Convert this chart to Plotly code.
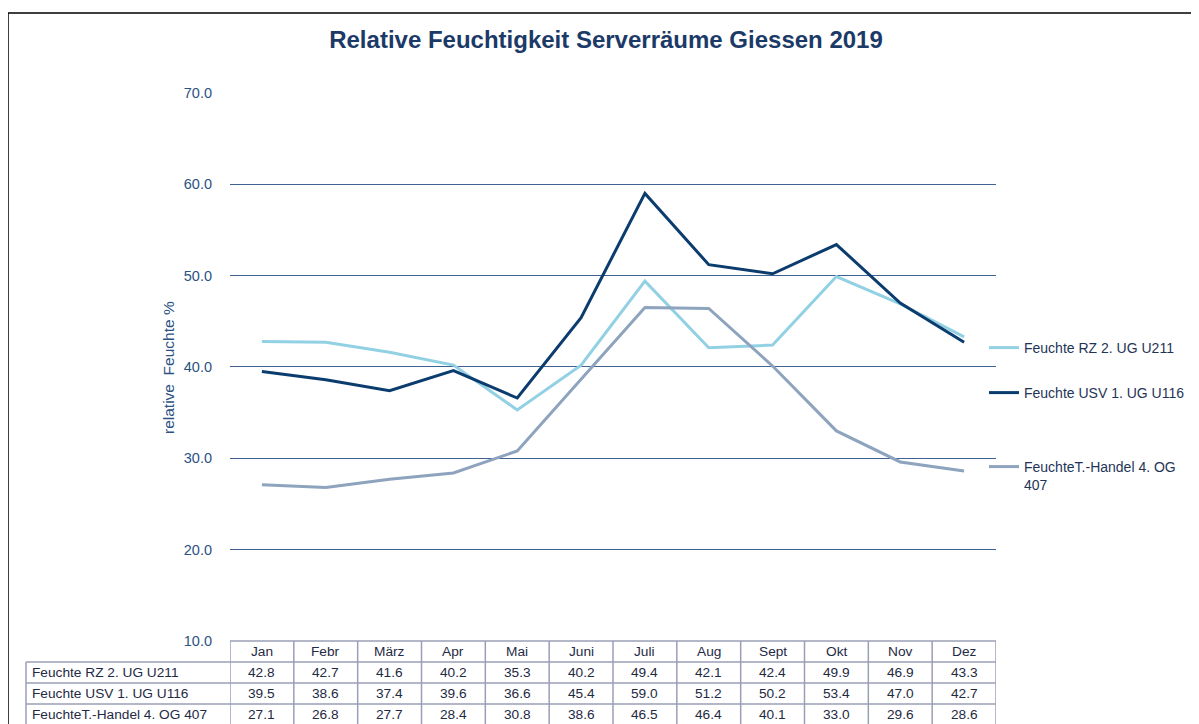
import plotly.graph_objects as go

months = ["Jan", "Febr", "März", "Apr", "Mai", "Juni", "Juli", "Aug", "Sept", "Okt", "Nov", "Dez"]
series_names = ["Feuchte RZ 2. UG U211", "Feuchte USV 1. UG U116", "FeuchteT.-Handel 4. OG 407"]
legend_names = ["Feuchte RZ 2. UG U211", "Feuchte USV 1. UG U116", "FeuchteT.-Handel 4. OG<br>407"]
rz_u211 = [42.8, 42.7, 41.6, 40.2, 35.3, 40.2, 49.4, 42.1, 42.4, 49.9, 46.9, 43.3]
usv_u116 = [39.5, 38.6, 37.4, 39.6, 36.6, 45.4, 59.0, 51.2, 50.2, 53.4, 47.0, 42.7]
handel_407 = [27.1, 26.8, 27.7, 28.4, 30.8, 38.6, 46.5, 46.4, 40.1, 33.0, 29.6, 28.6]
series_values = [rz_u211, usv_u116, handel_407]
colors = ["#92d0e4", "#0b3c6e", "#8ea3bd"]
y_ticks = [10, 20, 30, 40, 50, 60, 70]

OFF = 8  # page body margin
W, H = 1199 - OFF, 724 - OFF
L, R, T, B = 230, 996, 92, 641  # plot area in screen px


def px_x(px):
    return (px - L) / (R - L)


def px_y(py):
    return (B - py) / (B - T)


fig = go.Figure()
xs = list(range(len(months)))
legend_ids = ["legend", "legend2", "legend3"]
for name, lname, vals, col, lid in zip(series_names, legend_names, series_values, colors, legend_ids):
    fig.add_trace(go.Scatter(x=xs, y=vals, mode="lines", name=lname,
                             line=dict(color=col, width=3), legend=lid, showlegend=True,
                             hovertemplate=name + ": %{y:.1f}<extra></extra>"))

font_fam = "Liberation Sans, Arial, sans-serif"
leg_common = dict(font=dict(family=font_fam, size=14, color="#1f3558"), bgcolor="rgba(0,0,0,0)",
                  xanchor="left", yanchor="middle", valign="top", itemwidth=30,
                  x=px_x(984), tracegroupgap=0, visible=True)
layout_legends = {
    "legend": dict(leg_common, y=px_y(348)),
    "legend2": dict(leg_common, y=px_y(393)),
    "legend3": dict(leg_common, y=px_y(476)),
}

shapes = []
annotations = []
tbl_color = "#9a9fb5"
row_lines = [641, 662, 683, 704, 725]
left_px = 26
for i, ry in enumerate(row_lines):
    x0 = 0 if i == 0 else px_x(left_px)
    shapes.append(dict(type="line", xref="paper", yref="paper", x0=x0, x1=1,
                       y0=px_y(ry), y1=px_y(ry), line=dict(color=tbl_color, width=1.5)))
for k in range(len(months) + 1):
    shapes.append(dict(type="line", xref="x", yref="paper", x0=k - 0.5, x1=k - 0.5,
                       y0=px_y(641), y1=px_y(730), line=dict(color=tbl_color, width=1.5)))
shapes.append(dict(type="line", xref="paper", yref="paper", x0=px_x(left_px), x1=px_x(left_px),
                   y0=px_y(662), y1=px_y(730), line=dict(color=tbl_color, width=1.5)))
shapes.append(dict(type="rect", xref="paper", yref="paper", x0=px_x(8), x1=px_x(1215),
                   y0=px_y(740), y1=px_y(13), line=dict(color="#000000", width=1.5)))

tfont = dict(family=font_fam, size=13.7, color="#1f2a44")
for k, m in enumerate(months):
    annotations.append(dict(x=k, y=px_y(651.5), xref="x", yref="paper", text=m, showarrow=False,
                            font=tfont, xanchor="center", yanchor="middle"))
for r, (name, vals) in enumerate(zip(series_names, series_values)):
    cy = px_y(672.5 + 21 * r)
    annotations.append(dict(x=px_x(30), y=cy, xref="paper", yref="paper", text=name, showarrow=False,
                            font=tfont, xanchor="left", yanchor="middle"))
    for k, v in enumerate(vals):
        annotations.append(dict(x=k, y=cy, xref="x", yref="paper", text=f"{v:.1f}", showarrow=False,
                                font=tfont, xanchor="center", yanchor="middle"))
annotations.append(dict(x=px_x(168), y=px_y(368), xref="paper", yref="paper", text="relative  Feuchte %",
                        textangle=-90, showarrow=False, xanchor="center", yanchor="middle",
                        font=dict(family=font_fam, size=15.5, color="#2c5283")))

fig.update_layout(
    width=W, height=H,
    margin=dict(l=L - OFF, r=W - (R - OFF), t=T - OFF, b=H - (B - OFF), autoexpand=False),
    paper_bgcolor="white", plot_bgcolor="white",
    showlegend=True,
    title=dict(text="<b>Relative Feuchtigkeit Serverräume Giessen 2019</b>", x=(606 - OFF) / W,
               xanchor="center", y=1 - (40 - OFF) / H, yanchor="middle",
               font=dict(family=font_fam, size=24, color="#1c3a68")),
    xaxis=dict(range=[-0.5, 11.5], showticklabels=False, showgrid=False, zeroline=False, showline=False,
               ticks=""),
    yaxis=dict(range=[10, 70.1], tickvals=y_ticks, tickformat=".1f", showgrid=True, gridcolor="#3f6290",
               gridwidth=1, zeroline=False, showline=False, ticks="", ticklabelstandoff=17,
               tickfont=dict(family=font_fam, size=14.5, color="#2c5283")),
    shapes=shapes, annotations=annotations,
    **layout_legends,
)

fig.write_html("out.html")
